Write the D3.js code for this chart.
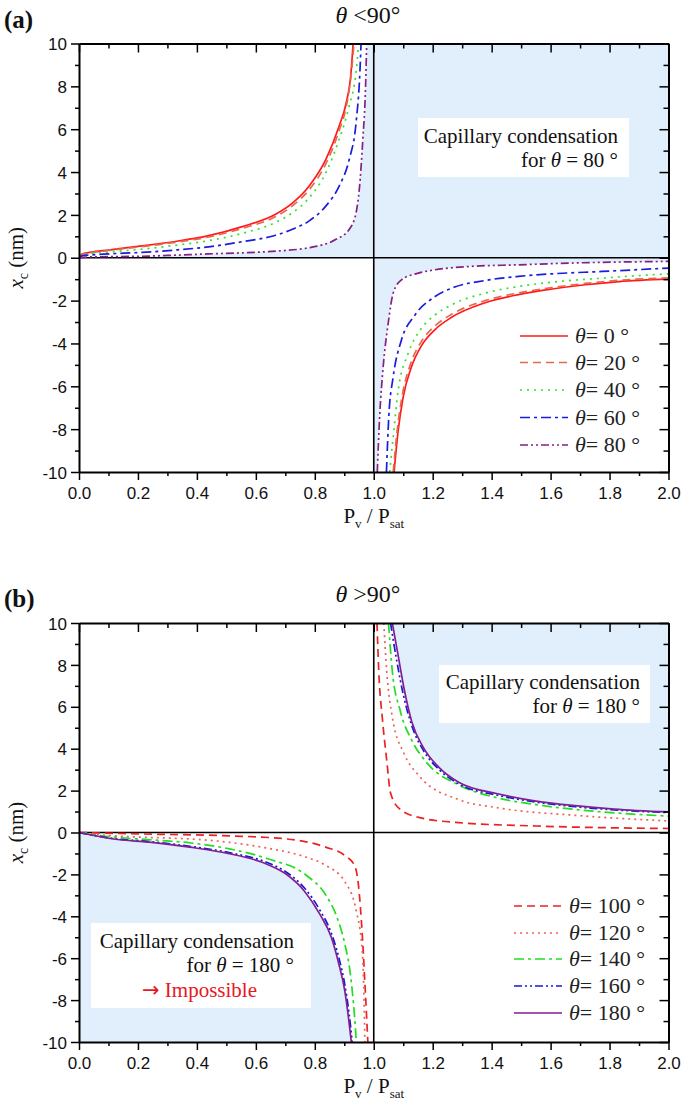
<!DOCTYPE html>
<html><head><meta charset="utf-8">
<script src="https://cdn.jsdelivr.net/npm/d3@7"></script>
<style>body{margin:0;background:#fff}svg{display:block}</style>
</head><body>
<svg id="c" width="685" height="1112"></svg>
<script>
// ---------- DATA ----------
const xTicks = [0,0.2,0.4,0.6,0.8,1.0,1.2,1.4,1.6,1.8,2.0];
const yTicks = [-10,-8,-6,-4,-2,0,2,4,6,8,10];
const anglesA = [0,20,40,60,80];
const anglesB = [100,120,140,160,180];

// panel (a): left branch (P<1) and right branch (P>1)
const a0L = [[0,0],[0.01,0.17],[0.04,0.26],[0.1,0.36],[0.213,0.55],[0.327,0.76],[0.44,1.03],[0.554,1.45],[0.667,2.03],[0.724,2.55],[0.781,3.35],[0.838,4.6],[0.883,6.16],[0.906,7.2],[0.923,8.66],[0.93,10]];
const a20L = [[0,0],[0.01,0.16],[0.04,0.24],[0.1,0.34],[0.213,0.52],[0.327,0.72],[0.44,0.97],[0.554,1.37],[0.667,1.92],[0.724,2.42],[0.781,3.18],[0.838,4.4],[0.883,5.95],[0.906,7.0],[0.923,8.5],[0.933,10]];
const a40L = [[0,0],[0.01,0.13],[0.04,0.2],[0.1,0.27],[0.213,0.4],[0.327,0.58],[0.44,0.8],[0.554,1.14],[0.667,1.65],[0.724,2.1],[0.781,2.8],[0.838,3.98],[0.883,5.54],[0.917,7.1],[0.94,8.66],[0.949,10]];
const a60L = [[0,0],[0.01,0.09],[0.04,0.13],[0.1,0.18],[0.213,0.25],[0.327,0.36],[0.44,0.51],[0.554,0.75],[0.667,1.05],[0.724,1.33],[0.781,1.72],[0.838,2.42],[0.883,3.35],[0.917,4.6],[0.94,6.3],[0.953,8.66],[0.957,10]];
const a80L = [[0,0],[0.04,0.04],[0.1,0.05],[0.213,0.07],[0.327,0.12],[0.44,0.18],[0.554,0.23],[0.667,0.31],[0.781,0.47],[0.872,0.86],[0.917,1.33],[0.94,2.1],[0.951,3.2],[0.963,5.54],[0.972,7.9],[0.976,10]];
const a0R = [[1.069,-10],[1.083,-8.05],[1.1,-6.49],[1.128,-5.09],[1.162,-4.1],[1.208,-3.35],[1.264,-2.78],[1.378,-2.1],[1.491,-1.72],[1.605,-1.46],[1.718,-1.26],[1.832,-1.11],[2.0,-1.0]];
const a20R = [[1.066,-10],[1.08,-8.0],[1.097,-6.4],[1.125,-4.95],[1.162,-3.9],[1.208,-3.18],[1.264,-2.64],[1.378,-2.0],[1.491,-1.64],[1.605,-1.39],[1.718,-1.2],[1.832,-1.05],[2.0,-0.94]];
const a40R = [[1.054,-10],[1.066,-8.36],[1.083,-6.18],[1.117,-4.46],[1.162,-3.29],[1.208,-2.67],[1.264,-2.2],[1.378,-1.65],[1.491,-1.34],[1.605,-1.14],[1.775,-0.95],[2.0,-0.75]];
const a60R = [[1.043,-10],[1.051,-7.43],[1.066,-5.55],[1.094,-3.84],[1.14,-2.67],[1.208,-1.81],[1.264,-1.42],[1.378,-1.06],[1.491,-0.87],[1.605,-0.75],[1.775,-0.64],[2.0,-0.48]];
const a80R = [[1.012,-10],[1.02,-7.43],[1.032,-5.09],[1.049,-3.06],[1.066,-1.65],[1.094,-1.03],[1.151,-0.72],[1.208,-0.56],[1.321,-0.41],[1.491,-0.33],[1.662,-0.25],[2.0,-0.17]];

// panel (b)
const b100L = [[0,0],[0.248,-0.08],[0.51,-0.16],[0.706,-0.31],[0.837,-0.7],[0.902,-1.1],[0.935,-1.57],[0.948,-2.5],[0.961,-4.86],[0.97,-7.2],[0.98,-10]];
const b120L = [[0,0],[0.117,-0.16],[0.248,-0.24],[0.379,-0.31],[0.51,-0.47],[0.64,-0.75],[0.771,-1.18],[0.837,-1.57],[0.902,-2.35],[0.941,-3.76],[0.961,-5.65],[0.967,-8.0],[0.97,-10]];
const b140L = [[0,0],[0.117,-0.22],[0.248,-0.35],[0.379,-0.5],[0.51,-0.78],[0.64,-1.25],[0.771,-2.04],[0.837,-2.98],[0.876,-4.08],[0.902,-5.33],[0.922,-6.9],[0.935,-8.8],[0.941,-10]];
const b160L = [[0,0],[0.117,-0.29],[0.246,-0.44],[0.376,-0.66],[0.506,-0.95],[0.636,-1.42],[0.7,-1.86],[0.765,-2.65],[0.817,-3.7],[0.856,-4.8],[0.882,-6.0],[0.901,-7.2],[0.916,-8.6],[0.927,-10]];
const b180L = [[0,0],[0.117,-0.31],[0.246,-0.47],[0.376,-0.7],[0.506,-1.0],[0.636,-1.5],[0.7,-1.96],[0.765,-2.8],[0.817,-3.9],[0.856,-5.0],[0.882,-6.3],[0.901,-7.5],[0.914,-8.8],[0.924,-10]];
const b100R = [[1.011,10],[1.017,7.7],[1.03,5.33],[1.044,3.45],[1.057,1.88],[1.09,1.1],[1.156,0.71],[1.288,0.47],[1.551,0.31],[2.0,0.19]];
const b120R = [[1.034,10],[1.044,7.7],[1.063,5.5],[1.103,3.76],[1.156,2.67],[1.288,1.57],[1.42,1.18],[1.683,0.82],[2.0,0.55]];
const b140R = [[1.05,10],[1.063,7.7],[1.09,5.8],[1.129,4.4],[1.182,3.3],[1.288,2.27],[1.42,1.65],[1.551,1.33],[1.683,1.1],[1.815,0.94],[2.0,0.78]];
const b160R = [[1.057,10],[1.078,8.2],[1.1,6.6],[1.129,5.1],[1.169,3.9],[1.222,3.0],[1.288,2.32],[1.42,1.78],[1.551,1.45],[1.683,1.23],[1.815,1.08],[2.0,0.95]];
const b180R = [[1.063,10],[1.083,8.43],[1.103,6.86],[1.129,5.29],[1.169,4.04],[1.222,3.1],[1.288,2.4],[1.42,1.85],[1.551,1.5],[1.683,1.28],[1.815,1.12],[2.0,0.98]];

const seriesA = [
  {ang:0,  L:a0L,  R:a0R,  color:"#ff1a1a", dash:null},
  {ang:20, L:a20L, R:a20R, color:"#e8674f", dash:"8,5"},
  {ang:40, L:a40L, R:a40R, color:"#2be52b", dash:"2,5"},
  {ang:60, L:a60L, R:a60R, color:"#1c1cdc", dash:"10,4,3,4"},
  {ang:80, L:a80L, R:a80R, color:"#842086", dash:"8,3,2,3,2,3"}
];
const seriesB = [
  {ang:100, L:b100L, R:b100R, color:"#ea2222", dash:"8,5"},
  {ang:120, L:b120L, R:b120R, color:"#f0605a", dash:"2,4"},
  {ang:140, L:b140L, R:b140R, color:"#22dd22", dash:"10,4,3,4"},
  {ang:160, L:b160L, R:b160R, color:"#1818d8", dash:"8,3,2,3,2,3"},
  {ang:180, L:b180L, R:b180R, color:"#7e1f92", dash:null}
];

// ---------- DRAW ----------
const svg = d3.select("#c");
const SERIF = "'Liberation Serif','Times New Roman',serif";
const SANS = "'Liberation Sans',Arial,sans-serif";
const SHADE = "#e1eefb";
const x = d3.scaleLinear().domain([0,2]).range([79,668.5]);

function panel(cfg){
  const y = d3.scaleLinear().domain([-10,10]).range([cfg.bottom,cfg.top]);
  const g = svg.append("g");
  const clipId = "clip"+cfg.id;
  svg.append("clipPath").attr("id",clipId).append("rect")
    .attr("x",x(0)).attr("y",y(10)).attr("width",x(2)-x(0)).attr("height",y(-10)-y(10));
  const line = d3.line().x(d=>x(d[0])).y(d=>y(d[1])).curve(d3.curveMonotoneX);
  const plot = g.append("g").attr("clip-path",`url(#${clipId})`);
  cfg.shade(plot, x, y, line);
  cfg.boxes(plot, y);
  plot.append("line").attr("x1",x(0)).attr("x2",x(2)).attr("y1",y(0)).attr("y2",y(0)).attr("stroke","#000").attr("stroke-width",1.6);
  plot.append("line").attr("x1",x(1)).attr("x2",x(1)).attr("y1",y(-10)).attr("y2",y(10)).attr("stroke","#000").attr("stroke-width",1.6);
  cfg.series.forEach(s=>{
    [s.L,s.R].forEach(br=>{
      plot.append("path").attr("d",line(br)).attr("fill","none")
        .attr("stroke",s.color).attr("stroke-width",1.7)
        .attr("stroke-dasharray",s.dash);
    });
  });
  const minorX = d3.range(0,2.0001,0.1).map(v=>+v.toFixed(1));
  const minorY = d3.range(-10,10.0001,1);
  const isMajX = v => Math.abs(v*5-Math.round(v*5))<1e-6;
  g.append("g").attr("transform",`translate(0,${y(-10)})`)
    .call(d3.axisBottom(x).tickValues(minorX).tickSize(0).tickFormat(""))
    .call(a=>a.selectAll(".tick line").attr("y2",d=>isMajX(d)?8:4));
  g.append("g").attr("transform",`translate(0,${y(-10)})`)
    .call(d3.axisBottom(x).tickValues(xTicks).tickSize(0).tickPadding(0).tickFormat(d3.format(".1f")))
    .call(a=>{a.select(".domain").remove();a.selectAll("text").attr("dy",null).attr("y",27).style("font-family",SANS).style("font-size","17px").attr("fill","#111");});
  g.append("g").attr("transform",`translate(0,${y(10)})`)
    .call(d3.axisBottom(x).tickValues(minorX).tickSize(0).tickFormat(""))
    .call(a=>a.selectAll(".tick line").attr("y2",d=>isMajX(d)?9:5));
  g.append("g").attr("transform",`translate(${x(0)},0)`)
    .call(d3.axisLeft(y).tickValues(minorY).tickSize(0).tickFormat(""))
    .call(a=>a.selectAll(".tick line").attr("x2",d=>d%2===0?-8:-4));
  g.append("g").attr("transform",`translate(${x(0)},0)`)
    .call(d3.axisLeft(y).tickValues(yTicks).tickSize(0).tickPadding(12).tickFormat(d=>String(d)))
    .call(a=>{a.select(".domain").remove();a.selectAll("text").style("font-family",SANS).style("font-size","17px").attr("fill","#111").attr("dy","0.36em");});
  g.append("g").attr("transform",`translate(${x(2)},0)`)
    .call(d3.axisLeft(y).tickValues(minorY).tickSize(0).tickFormat(""))
    .call(a=>a.selectAll(".tick line").attr("x2",d=>d%2===0?-9:-5));
  g.selectAll(".domain").attr("stroke","#000").attr("stroke-width",2);
  g.selectAll(".tick line").attr("stroke","#000").attr("stroke-width",1.5);

  const xt = g.append("text").attr("x",x(1)).attr("y",y(-10)+51).attr("text-anchor","middle")
    .style("font-family",SERIF).style("font-size","21px").attr("fill","#111");
  xt.append("tspan").text("P");
  xt.append("tspan").attr("dy",5).style("font-size","13px").text("v");
  xt.append("tspan").attr("dy",-5).text(" / P");
  xt.append("tspan").attr("dy",5).style("font-size","13px").text("sat");
  const ym = (y(10)+y(-10))/2;
  const yt = g.append("text").attr("transform",`translate(23,${ym}) rotate(-90)`).attr("text-anchor","middle")
    .style("font-family",SERIF).style("font-size","21px").attr("fill","#111");
  yt.append("tspan").style("font-style","italic").text("x");
  yt.append("tspan").attr("dy",5).style("font-size","14px").text("c");
  yt.append("tspan").attr("dy",-5).text(" (nm)");
  svg.append("text").attr("x",4).attr("y",cfg.top-16).style("font-family",SERIF).style("font-size","25px")
    .style("font-weight","bold").attr("fill","#111").text(cfg.label);
  const tt = svg.append("text").attr("x",368).attr("y",cfg.top-21).attr("text-anchor","middle")
    .style("font-family",SERIF).style("font-size","24px").attr("fill","#111");
  tt.append("tspan").style("font-style","italic").text("θ");
  tt.append("tspan").text(cfg.title);
  const lg = g.append("g");
  cfg.series.forEach((s,i)=>{
    const ly = cfg.legY[i];
    lg.append("line").attr("x1",cfg.legX).attr("x2",cfg.legX+48).attr("y1",ly).attr("y2",ly)
      .attr("stroke",s.color).attr("stroke-width",1.7).attr("stroke-dasharray",s.dash);
    const t = lg.append("text").attr("x",cfg.legX+55).attr("y",ly+7)
      .style("font-family",SERIF).style("font-size","22px").attr("fill","#222");
    t.append("tspan").style("font-style","italic").text("θ");
    t.append("tspan").text("= "+s.ang+" °");
  });
}

function box(p, x0,y0,x1,y1){
  p.append("rect").attr("x",x0).attr("y",y0).attr("width",x1-x0).attr("height",y1-y0).attr("fill","#fff");
}
function boxText(p, xe, yb, parts, color, anchor){
  const t = p.append("text").attr("x",xe).attr("y",yb).attr("text-anchor",anchor||"end")
    .style("font-family",SERIF).style("font-size","21px").attr("fill",color||"#111");
  parts.forEach(pp=>{ const ts=t.append("tspan").text(pp[0]); if(pp[1]) ts.style("font-style","italic"); if(pp[2]) ts.style("font-family",pp[2]); });
}

panel({
  id:"a", top:43.5, bottom:472, label:"(a)", title:" <90°", series:seriesA,
  legX:520, legY:[336,362.5,390,417.5,445],
  shade:(p,x,y,line)=>{
    p.append("rect").attr("x",x(1)).attr("y",y(10)).attr("width",x(2)-x(1)).attr("height",y(0)-y(10)).attr("fill",SHADE);
    p.append("path").attr("d", line(a80L)+`L${x(1)},${y(10)}L${x(1)},${y(0)}Z`).attr("fill",SHADE);
    p.append("path").attr("d", `M${x(1)},${y(0)}L${x(1)},${y(-10)}`+line(a80R).replace(/^M/,"L")+`L${x(2)},${y(0)}Z`).attr("fill",SHADE);
  },
  boxes:(p,y)=>{
    box(p,418,118,629,177);
    boxText(p,618,143,[["Capillary condensation"]]);
    boxText(p,618,167,[["for "],["θ",1],[" = 80 °"]]);
  }
});

panel({
  id:"b", top:623, bottom:1042, label:"(b)", title:" >90°", series:seriesB,
  legX:514, legY:[906,933,959,986,1013],
  shade:(p,x,y,line)=>{
    p.append("path").attr("d", line(b180R)+`L${x(2)},${y(10)}Z`).attr("fill",SHADE);
    p.append("path").attr("d", line(b180L)+`L${x(0)},${y(-10)}Z`).attr("fill",SHADE);
  },
  boxes:(p,y)=>{
    box(p,439,665,650,723);
    boxText(p,640,689,[["Capillary condensation"]]);
    boxText(p,640,713,[["for "],["θ",1],[" = 180 °"]]);
    box(p,91,923,311,1008);
    boxText(p,294,948,[["Capillary condensation"]]);
    boxText(p,294,972,[["for "],["θ",1],[" = 180 °"]]);
    boxText(p,142,997,[["→",0,"'DejaVu Sans',sans-serif"],[" Impossible"]],"#e8181e","start");
  }
});
</script>
</body></html>
